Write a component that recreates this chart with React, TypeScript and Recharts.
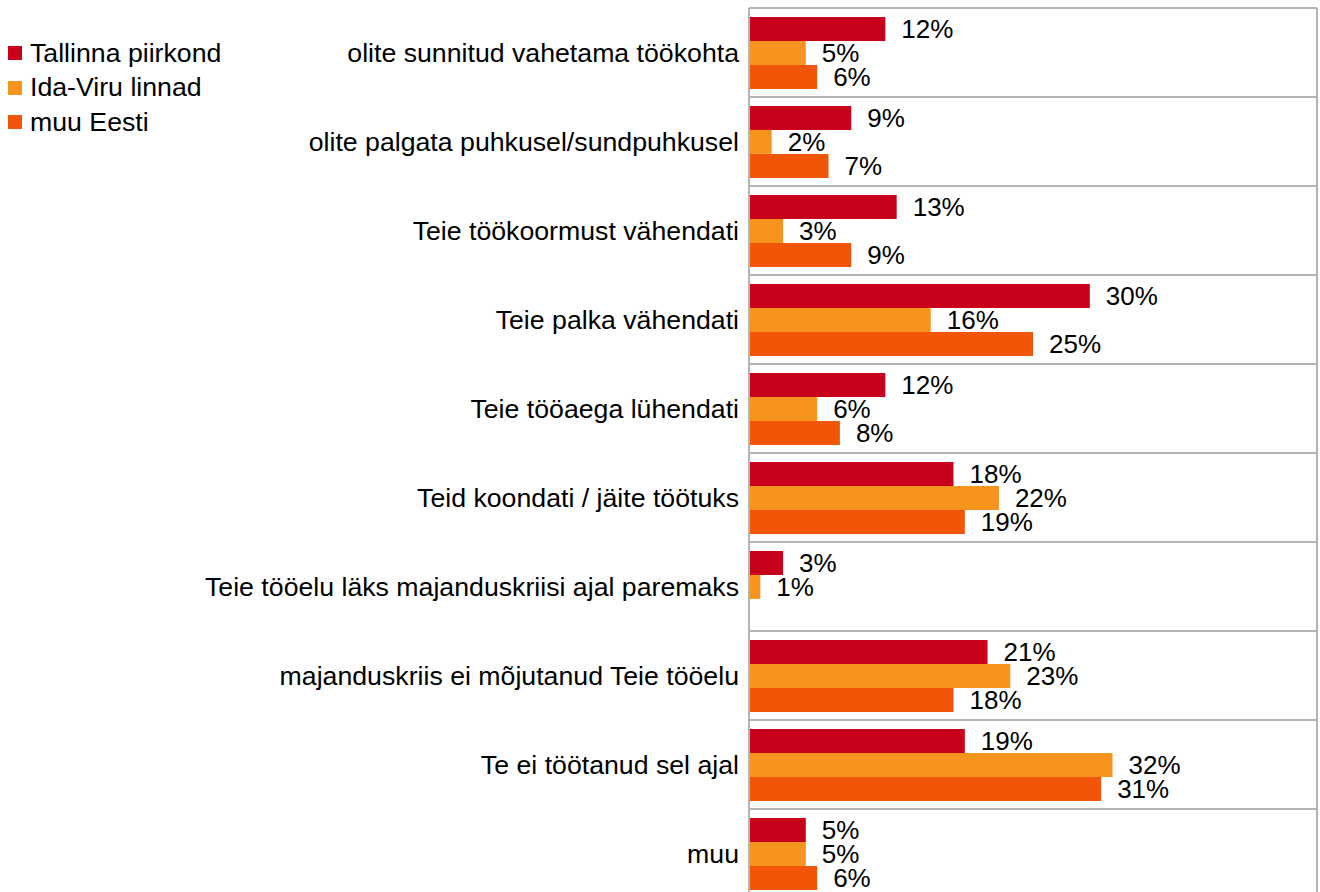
import { Bar, BarChart, CartesianGrid, LabelList, XAxis, YAxis } from "recharts";

const categories = [
  "olite sunnitud vahetama töökohta",
  "olite palgata puhkusel/sundpuhkusel",
  "Teie töökoormust vähendati",
  "Teie palka vähendati",
  "Teie tööaega lühendati",
  "Teid koondati / jäite töötuks",
  "Teie tööelu läks majanduskriisi ajal paremaks",
  "majanduskriis ei mõjutanud Teie tööelu",
  "Te ei töötanud sel ajal",
  "muu",
];

const tallinn = [12, 9, 13, 30, 12, 18, 3, 21, 19, 5];
const idaViru = [5, 2, 3, 16, 6, 22, 1, 23, 32, 5];
const muuEesti: (number | null)[] = [6, 7, 9, 25, 8, 19, null, 18, 31, 6];

const series = [
  { key: "tallinn", name: "Tallinna piirkond", color: "#c8001b" },
  { key: "idaViru", name: "Ida-Viru linnad", color: "#f7941e" },
  { key: "muuEesti", name: "muu Eesti", color: "#f15507" },
];

const data = categories.map((c, i) => ({
  category: c,
  tallinn: tallinn[i],
  idaViru: idaViru[i],
  muuEesti: muuEesti[i],
}));

const FONT = "Arial, 'Liberation Sans', sans-serif";
const GRID = "#b4b4b4";

const fmt = (v: unknown) => (v == null ? "" : `${v}%`);

export default function App() {
  return (
    <div
      style={{
        position: "fixed",
        left: 0,
        top: 0,
        width: 1320,
        height: 892,
        overflow: "hidden",
        background: "#fff",
        fontFamily: FONT,
      }}
    >
      <div style={{ position: "absolute", left: 8, top: 36 }}>
        {series.map((s) => (
          <div
            key={s.key}
            style={{ display: "flex", alignItems: "center", height: 34.5, fontSize: 26.7, color: "#000" }}
          >
            <span style={{ width: 14, height: 14, background: s.color, marginRight: 8 }} />
            {s.name}
          </div>
        ))}
      </div>
      <BarChart
        width={1320}
        height={900}
        data={data}
        layout="vertical"
        margin={{ top: 8, right: 3, bottom: 2, left: 0 }}
        barCategoryGap="10%"
        barGap={0}
      >
        <CartesianGrid
          stroke={GRID}
          strokeWidth={2}
          horizontalCoordinatesGenerator={({ offset }: any) =>
            categories.map((_, i) => offset.top + (i * offset.height) / categories.length).concat(offset.top + offset.height)
          }
          verticalCoordinatesGenerator={({ offset }: any) => [offset.left + offset.width]}
        />
        <XAxis type="number" domain={[0, 50]} hide />
        <YAxis
          type="category"
          dataKey="category"
          width={749}
          tickLine={false}
          tickSize={8}
          tickMargin={2}
          axisLine={{ stroke: GRID, strokeWidth: 2 }}
          tick={{ fontSize: 26.7, fill: "#000", fontFamily: FONT }}
          interval={0}
        />
        {series.map((s) => (
          <Bar key={s.key} dataKey={s.key} name={s.name} fill={s.color} isAnimationActive={false}>
            <LabelList
              dataKey={s.key}
              position="right"
              offset={16}
              formatter={fmt}
              style={{ fontSize: 26, fill: "#000", fontFamily: FONT }}
            />
          </Bar>
        ))}
      </BarChart>
    </div>
  );
}
